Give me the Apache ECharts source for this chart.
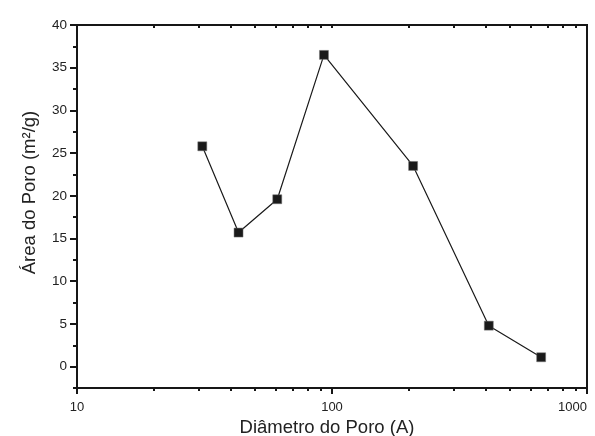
<!DOCTYPE html>
<html>
<head>
<meta charset="utf-8">
<script src="https://cdn.jsdelivr.net/npm/echarts@6/dist/echarts.min.js"></script>
<style>html,body{margin:0;padding:0;background:#fff}#c{width:595px;height:436px}</style>
</head>
<body>
<div id="c"></div>
<script>
const diameters = [31, 43, 61, 93, 208, 412, 661];
const areas = [25.8, 15.7, 19.6, 36.5, 23.5, 4.8, 1.1];
const xMajorTicks = [10, 100, 1000];
const xMinorTicks = [20, 30, 40, 50, 60, 70, 80, 90, 200, 300, 400, 500, 600, 700, 800, 900];
const yMajorTicks = [0, 5, 10, 15, 20, 25, 30, 35, 40];
const yMinorTicks = [-2.5, 2.5, 7.5, 12.5, 17.5, 22.5, 27.5, 32.5, 37.5];
const xTitle = 'Diâmetro do Poro (A)';
const yTitle = 'Área do Poro (m²/g)';

const FONT = 'Liberation Sans, Arial, sans-serif';
const AX = '#161616';
const chart = echarts.init(document.getElementById('c'));
const data = diameters.map((d, i) => [d, areas[i]]);
chart.setOption({
  animation: false,
  grid: {left: 77, right: 8, top: 25, bottom: 48, outerBoundsMode: 'none', containLabel: false,
         show: true, borderColor: AX, borderWidth: 2, backgroundColor: 'transparent'},
  xAxis: [
    {type: 'log', logBase: 10, min: 10, max: 1000, position: 'bottom',
     axisLine: {show: true, onZero: false, lineStyle: {color: AX, width: 2}},
     axisTick: {show: true, customValues: xMajorTicks, length: 6, lineStyle: {color: AX, width: 2}},
     axisLabel: {customValues: xMajorTicks, formatter: v => String(Math.round(v)), alignMaxLabel: 'right',
                 color: '#222', fontSize: 13, fontFamily: FONT, margin: 13},
     splitLine: {show: false},
     name: xTitle, nameLocation: 'middle', nameGap: 29,
     nameTextStyle: {fontSize: 18.5, fontFamily: FONT, color: '#222', padding: [0, 10, 0, 0]}},
    {type: 'log', logBase: 10, min: 10, max: 1000, position: 'bottom',
     axisLine: {show: false, onZero: false},
     axisTick: {show: true, customValues: xMinorTicks, length: 3, lineStyle: {color: AX, width: 2}},
     axisLabel: {show: false}, splitLine: {show: false}},
    {type: 'log', logBase: 10, min: 10, max: 1000, position: 'top',
     axisLine: {show: true, onZero: false, lineStyle: {color: AX, width: 2}},
     axisTick: {show: true, inside: true, customValues: xMinorTicks.concat([100]), length: 3, lineStyle: {color: AX, width: 2}},
     axisLabel: {show: false}, splitLine: {show: false}}
  ],
  yAxis: [
    {type: 'value', min: -2.5, max: 40, position: 'left',
     axisLine: {show: true, onZero: false, lineStyle: {color: AX, width: 2}},
     axisTick: {show: true, customValues: yMajorTicks, length: 7, lineStyle: {color: AX, width: 2}},
     axisLabel: {customValues: yMajorTicks, color: '#222', fontSize: 13.5, fontFamily: FONT, margin: 10},
     splitLine: {show: false},
     name: yTitle, nameLocation: 'middle', nameGap: 38, nameRotate: 90,
     nameTextStyle: {fontSize: 18.5, fontFamily: FONT, color: '#222', padding: [0, 0, 0, 28]}},
    {type: 'value', min: -2.5, max: 40, position: 'left',
     axisLine: {show: false, onZero: false},
     axisTick: {show: true, customValues: yMinorTicks, length: 4, lineStyle: {color: AX, width: 2}},
     axisLabel: {show: false}, splitLine: {show: false}}
  ],
  series: [{
    type: 'line', xAxisIndex: 0, yAxisIndex: 0, data: data,
    symbol: 'rect', symbolSize: 9,
    lineStyle: {color: '#1a1a1a', width: 1.2},
    itemStyle: {color: '#1a1a1a', borderColor: '#777', borderWidth: 0.5}
  }]
});
</script>
</body>
</html>
